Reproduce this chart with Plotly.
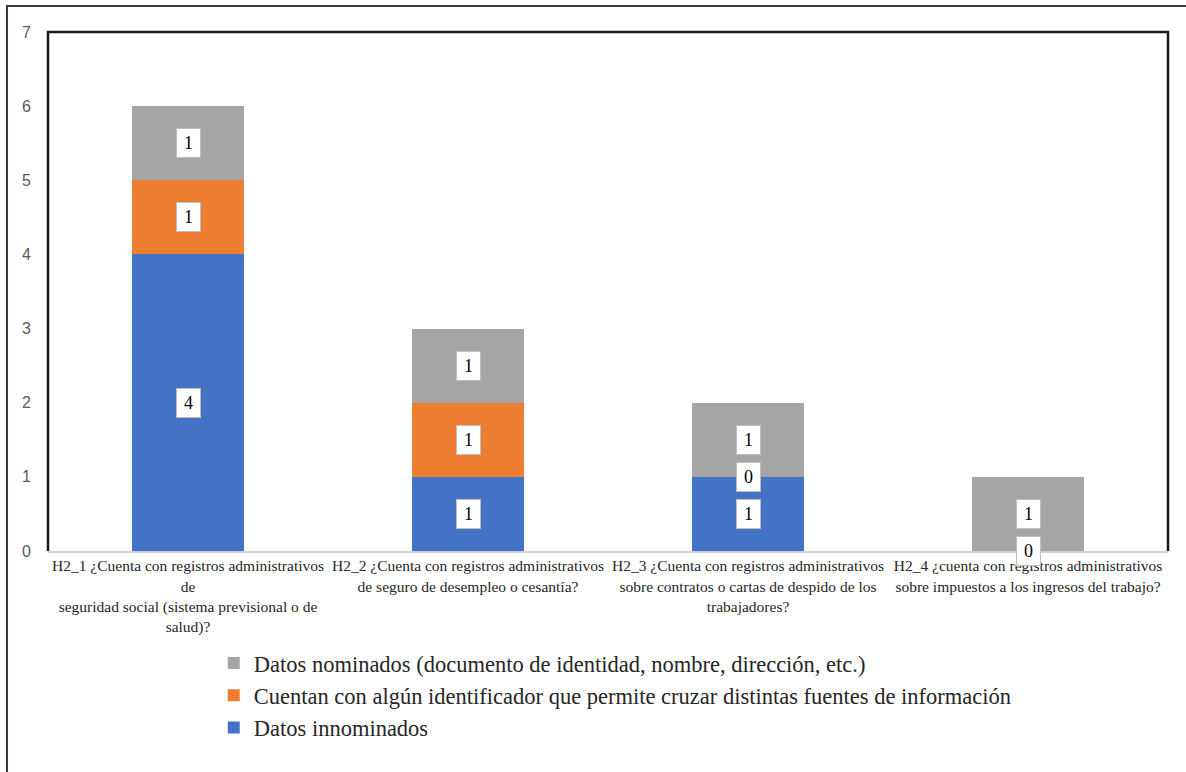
import plotly.graph_objects as go

categories = [
    "H2_1 ¿Cuenta con registros administrativos<br>de<br>seguridad social (sistema previsional o de<br>salud)?",
    "H2_2 ¿Cuenta con registros administrativos<br>de seguro de desempleo o cesantía?",
    "H2_3 ¿Cuenta con registros administrativos<br>sobre contratos o cartas de despido de los<br>trabajadores?",
    "H2_4 ¿cuenta con registros administrativos<br>sobre impuestos a los ingresos del trabajo?",
]
innominados = [4, 1, 1, 0]
identificador = [1, 1, 0, 0]
nominados = [1, 1, 1, 1]

series = [
    ("Datos innominados", innominados, "#4472C4"),
    ("Cuentan con algún identificador que permite cruzar distintas fuentes de información", identificador, "#ED7D31"),
    ("Datos nominados (documento de identidad, nombre, dirección, etc.)", nominados, "#A5A5A5"),
]

SERIF = "Liberation Serif, Times New Roman, serif"

fig = go.Figure()
for name, vals, color in series:
    fig.add_trace(go.Bar(
        x=categories, y=vals, name=name, marker=dict(color=color, line=dict(width=0)),
        width=0.4,
    ))

# value labels in white boxes at the middle of each segment
annotations = []
base = [0] * len(categories)
for name, vals, color in series:
    for i, v in enumerate(vals):
        if name.startswith("Cuentan") and i == 3:
            base[i] += v
            continue
        annotations.append(dict(
            x=categories[i], y=base[i] + v / 2, text=str(v), showarrow=False,
            font=dict(family=SERIF, size=18, color="#000000"),
            width=17, height=22,
            bgcolor="#ffffff", bordercolor="#BFBFBF", borderwidth=1, borderpad=3,
        ))
        base[i] += v

fig.update_layout(
    width=1186, height=772,
    margin=dict(l=48, r=18, t=32, b=221),
    paper_bgcolor="#ffffff", plot_bgcolor="#ffffff",
    barmode="stack", bargap=0.6,
    showlegend=True,
    legend=dict(
        orientation="v", traceorder="reversed",
        x=0.148, y=-0.175, xanchor="left", yanchor="top",
        font=dict(family=SERIF, size=22.5, color="#262626"),
        itemwidth=30, tracegroupgap=0,
    ),
    annotations=annotations,
    shapes=[
        # outer border
        dict(type="rect", xref="paper", yref="paper",
             x0=-0.0366, x1=1.03, y0=-0.46, y1=1.050,
             line=dict(color="#3a3a3a", width=2)),
        # plot frame (left, top, right)
        dict(type="path", xref="paper", yref="paper",
             path="M 0,0 L 0,1 L 1,1 L 1,0",
             line=dict(color="#1a1a1a", width=2.5)),
    ],
    xaxis=dict(
        showgrid=False, showline=True, linecolor="#D0D0D0", linewidth=1.5,
        tickfont=dict(family=SERIF, size=15.5, color="#262626"),
        ticks="", fixedrange=True,
    ),
    yaxis=dict(
        range=[0, 7], dtick=1, showgrid=False, zeroline=False, showline=False,
        tickfont=dict(family="Liberation Sans, Arial, sans-serif", size=16, color="#595959"),
        ticklabelstandoff=16, ticks="",
    ),
)

fig.write_html("out.html")
